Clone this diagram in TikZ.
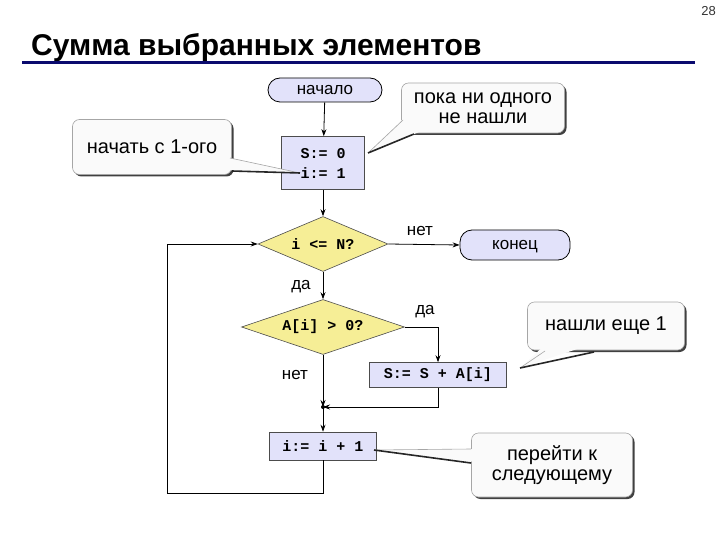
\documentclass[tikz,border=0pt]{standalone}
\usepackage{fontspec}
\setmainfont{Liberation Sans}
\newfontfamily\codefont{Liberation Mono}[BoldFont={Liberation Mono Bold}]
\usetikzlibrary{shapes.geometric,arrows.meta,shadows}
\definecolor{lav}{RGB}{226,226,250}
\definecolor{yel}{RGB}{246,238,150}
\definecolor{navy}{RGB}{10,10,110}
\definecolor{cfill}{RGB}{250,250,250}
\tikzset{
  txt/.style={font=\fontsize{17}{20}\selectfont},
  ctxt/.style={font=\fontsize{20}{23}\selectfont},
  code/.style={font=\codefont\bfseries\fontsize{15}{20}\selectfont},
  term/.style={draw=black, line width=0.8pt, fill=lav, rounded corners=12pt, inner sep=0pt, txt, text depth=0pt},
  procbox/.style={draw=black!70, line width=0.6pt, fill=lav, inner sep=0pt, code},
  decision/.style={diamond, draw=black!70, line width=0.6pt, fill=yel, inner sep=0pt, code},
  callout/.style={draw=black!35, line width=0.6pt, fill=cfill, rounded corners=7pt, inner sep=0pt, ctxt, align=center,
    drop shadow={shadow xshift=2pt, shadow yshift=-2pt, fill=black!75, opacity=1}},
  conn/.style={line width=0.8pt, black},
  arr/.style={conn, -{Stealth[length=7pt,width=5pt]}},
  lbl/.style={txt, inner sep=0pt}
}
\begin{document}
\begin{tikzpicture}[x=1pt,y=-1pt]
\useasboundingbox (0,0) rectangle (720,540);
% header
\node[anchor=base east, inner sep=0pt, font=\fontsize{13}{15}\selectfont, text=black!80] (pg) at (716,16) {28};
\node[anchor=base west, inner sep=0pt, font=\bfseries\fontsize{30}{33}\selectfont] (title) at (31,56) {Сумма выбранных элементов};
\draw[navy, line width=3pt] (22,62.5) -- (695,62.5);

% flowchart nodes
\node[term, minimum width=114pt, minimum height=24pt] (start) at (325,90) {начало};
\node[procbox, minimum width=83pt, minimum height=53pt, align=left] (init) at (323,163) {S:= 0\\i:= 1};
\node[decision, shape aspect=2.36, minimum width=130pt, minimum height=55pt] (cond1) at (323,244) {i <= N?};
\node[term, minimum width=110pt, minimum height=30pt] (stop) at (515,245) {конец};
\node[decision, shape aspect=2.96, minimum width=163pt, minimum height=55pt] (cond2) at (323,327) {A[i] > 0?};
\node[procbox, minimum width=137pt, minimum height=25pt] (add) at (438,375) {S:= S + A[i]};
\node[procbox, minimum width=107pt, minimum height=28pt] (inc) at (323,446) {i:= i + 1};
\coordinate (jn) at (323,407);
\coordinate (lc) at (167,493);

% connectors
\draw[arr] (start) -- (init);
\draw[arr] (init) -- (cond1);
\draw[arr] (cond1.east) -- (stop.west);
\draw[arr] (cond1.south) -- (cond2.north);
\draw[arr] (cond2.east) -| (add.north);
\draw[arr] (cond2.south) -- (jn);
\draw[arr] (add.south) |- (jn);
\draw[arr] (jn) -- (inc.north);
\draw[arr] (inc.south) |- (lc) |- (cond1.west);
\fill (jn) circle (2pt);

% labels
\node[lbl] (l1) at (420,231) {нет};
\node[lbl] (l2) at (301,287) {да};
\node[lbl] (l3) at (425,312) {да};
\node[lbl] (l4) at (295,375) {нет};

% callouts
\node[callout, minimum width=159pt, minimum height=55pt] (c1) at (152,147) {начать с 1-ого};
\fill[cfill] (224,157) -- (300,173) -- (224,170) -- cycle;
\draw[black!35, line width=0.6pt] (230,158) -- (300,173);
\draw[black!85, line width=1.6pt] (232,171) -- (300,173);

\node[callout, minimum width=163pt, minimum height=50pt] (c2) at (483,108) {пока ни одного\\[-3pt]не нашли};
\fill[cfill] (406,116) -- (368,153) -- (424,130) -- cycle;
\draw[black!35, line width=0.6pt] (403,120) -- (368,153);
\draw[black!85, line width=1.6pt] (414,134) -- (368,153);

\node[callout, minimum width=157pt, minimum height=48pt] (c3) at (606,326) {нашли еще 1};
\fill[cfill] (546,344) -- (520,368) -- (592,344) -- cycle;
\draw[black!35, line width=0.6pt] (545,351) -- (520,368);
\draw[black!85, line width=1.6pt] (594,352) -- (520,368);

\node[callout, minimum width=161pt, minimum height=64pt] (c4) at (552,465) {перейти к\\[-3pt]следующему};
\fill[cfill] (476,449) -- (374,450) -- (476,462) -- cycle;
\draw[black!35, line width=0.6pt] (471,449) -- (374,450);
\draw[black!85, line width=1.6pt] (471,463) -- (374,450);
\end{tikzpicture}
\end{document}
